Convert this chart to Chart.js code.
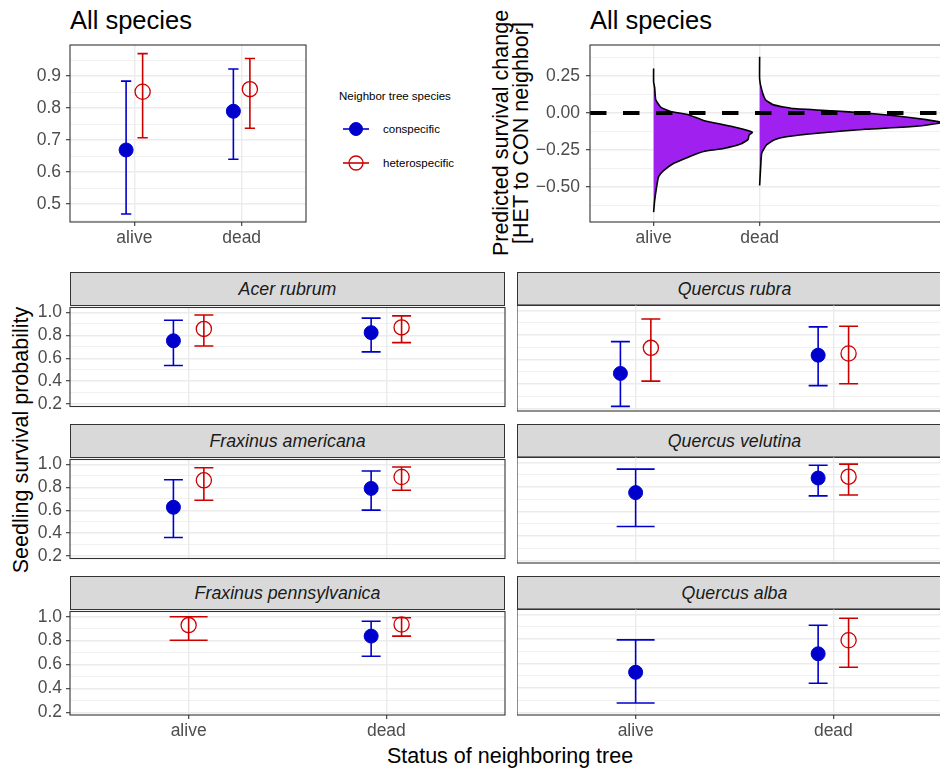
<!DOCTYPE html>
<html>
<head>
<meta charset="utf-8">
<script src="https://cdn.jsdelivr.net/npm/chart.js@4.4.1/dist/chart.umd.min.js"></script>
<style>
  html, body { margin: 0; padding: 0; background: #fff; overflow: hidden; }
  #fig { position: relative; width: 940px; height: 768px; overflow: hidden; font-family: "Liberation Sans", Arial, sans-serif; }
  canvas { position: absolute; }
  .txt { position: absolute; white-space: nowrap; color: #000; }
  .strip { position: absolute; box-sizing: border-box; background: #d9d9d9; border: 1.1px solid #333; font-style: italic; font-size: 17.8px; color: #1a1a1a; text-align: center; }
  .rot { transform: translate(-50%, -50%) rotate(-90deg); text-align: center; }
</style>
</head>
<body>
<div id="fig">
  <div class="txt" style="left:70px; top:8px; font-size:25.5px; line-height:25.5px">All species</div>
  <div class="txt" style="left:590px; top:8px; font-size:25.5px; line-height:25.5px">All species</div>

  <div class="txt" style="left:339px; top:89px; font-size:11.5px; line-height:14px">Neighbor tree species</div>
  <svg style="position:absolute; left:340px; top:115px" width="32" height="62">
    <line x1="3" y1="14" x2="29" y2="14" stroke="#0000cd" stroke-width="1.6"/>
    <circle cx="16" cy="14" r="6.5" fill="#0000cd" stroke="#0000cd" stroke-width="1"/>
    <line x1="3" y1="48" x2="29" y2="48" stroke="#cd0000" stroke-width="1.6"/>
    <circle cx="16" cy="48" r="7" fill="none" stroke="#cd0000" stroke-width="1.3"/>
  </svg>
  <div class="txt" id="leg0" style="left:383px; top:122px; font-size:11.5px; line-height:14px"></div>
  <div class="txt" id="leg1" style="left:383px; top:156px; font-size:11.5px; line-height:14px"></div>

  <div class="txt rot" style="left:511px; top:133px; font-size:21.5px; line-height:20px">Predicted survival change<br>[HET to CON neighbor]</div>
  <div class="txt rot" style="left:21px; top:440px; font-size:21.5px; line-height:22px">Seedling survival probability</div>
  <div class="txt" style="left:510px; top:745px; font-size:21.5px; line-height:22px; transform:translateX(-50%)">Status of neighboring tree</div>
</div>
<script>
// x categories and groups
const statuses = ['alive', 'dead'];
const groupNames = ['conspecific', 'heterospecific'];

// All species: survival probability (mean, lower, upper) per status
const allConMean = [0.669, 0.790];
const allConLow = [0.469, 0.640];
const allConHigh = [0.884, 0.922];
const allHetMean = [0.851, 0.859];
const allHetLow = [0.707, 0.737];
const allHetHigh = [0.970, 0.955];
const allTicks = [0.5, 0.6, 0.7, 0.8, 0.9];

// All species: predicted change, half-violin profiles
const changeTicks = [-0.5, -0.25, 0, 0.25];
const zeroLine = 0;
const aliveChange = [0.30, 0.21, 0.17, 0.09, 0.04, 0.01, -0.01, -0.05, -0.08, -0.10, -0.13, -0.15, -0.18, -0.21, -0.24, -0.26, -0.30, -0.34, -0.39, -0.43, -0.50, -0.59, -0.67];
const aliveDensity = [0, 0, 0.01, 0.02, 0.066, 0.16, 0.32, 0.47, 0.66, 0.79, 0.93, 0.90, 0.89, 0.82, 0.66, 0.47, 0.32, 0.19, 0.094, 0.047, 0.028, 0.01, 0];
const deadChange = [0.38, 0.23, 0.155, 0.09, 0.055, 0.03, 0.015, 0.0, -0.02, -0.045, -0.065, -0.09, -0.11, -0.135, -0.16, -0.18, -0.215, -0.27, -0.36, -0.49];
const deadDensity = [0, 0, 0.02, 0.055, 0.13, 0.32, 0.68, 1.0, 1.3, 1.57, 1.72, 1.48, 1.0, 0.57, 0.25, 0.14, 0.066, 0.02, 0.01, 0];

// Per species panels, [alive, dead]
const species = ['Acer rubrum', 'Quercus rubra', 'Fraxinus americana', 'Quercus velutina', 'Fraxinus pennsylvanica', 'Quercus alba'];
const conMean = [[0.753, 0.824], [0.485, 0.634], [0.626, 0.791], [0.753, 0.872], [null, 0.838], [0.527, 0.678]];
const conLow = [[0.536, 0.656], [0.216, 0.385], [0.362, 0.601], [0.476, 0.726], [null, 0.670], [0.276, 0.438]];
const conHigh = [[0.932, 0.951], [0.745, 0.865], [0.867, 0.943], [0.945, 0.976], [null, 0.962], [0.792, 0.911]];
const hetMean = [[0.857, 0.870], [0.694, 0.648], [0.862, 0.891], [null, 0.883], [0.930, 0.935], [null, 0.789]];
const hetLow = [[0.707, 0.737], [0.422, 0.401], [0.688, 0.775], [null, 0.734], [0.803, 0.838], [null, 0.568]];
const hetHigh = [[0.979, 0.971], [0.930, 0.870], [0.972, 0.978], [null, 0.986], [1.0, 0.992], [null, 0.968]];
const probTicks = [0.2, 0.4, 0.6, 0.8, 1.0];

const BLUE = '#0000cd', RED = '#cd0000', PURPLE = '#a020f0';
const DODGE = 0.077, CAP = 0.048;
const TICK_FONT = 17.5;

Chart.defaults.font.family = '"Liberation Sans", Arial, sans-serif';
Chart.defaults.animation = false;

const fig = document.getElementById('fig');
document.getElementById('leg0').textContent = groupNames[0];
document.getElementById('leg1').textContent = groupNames[1];

function addCanvas(left, top, w, h) {
    const c = document.createElement('canvas');
    c.width = w; c.height = h;
    c.style.left = left + 'px'; c.style.top = top + 'px';
    c.style.width = w + 'px'; c.style.height = h + 'px';
    fig.appendChild(c);
    return c;
}

const near = (a, b) => Math.abs(a - b) < 1e-6;

// y axis with major ticks + minor gridlines halfway between
function axisY(min, max, major, fmt, width, labels, pad) {
    const step = major[1] - major[0];
    const all = major.slice();
    [major[0] - step / 2].concat(major.map(v => v + step / 2)).forEach(v => {
        if (v > min && v < max) all.push(v);
    });
    all.sort((a, b) => a - b);
    const isMajor = v => major.some(m => near(m, v));
    return {
        type: 'linear', min: min, max: max,
        afterBuildTicks: s => { s.ticks = all.map(v => ({ value: v })); },
        afterFit: s => { s.width = width; },
        border: { display: false },
        grid: {
            color: '#ebebeb',
            lineWidth: c => (c.tick && isMajor(c.tick.value)) ? 1.4 : 0.7,
            drawTicks: labels,
            tickLength: 4,
            tickWidth: 1.1,
            tickColor: c => (c.tick && isMajor(c.tick.value)) ? '#333333' : 'rgba(0,0,0,0)'
        },
        ticks: {
            display: labels, autoSkip: false, padding: pad,
            color: '#4d4d4d', font: { size: TICK_FONT },
            callback: v => isMajor(v) ? fmt(v) : ''
        }
    };
}

function axisX(min, max, labels, height) {
    return {
        type: 'linear', min: min, max: max,
        afterBuildTicks: s => { s.ticks = statuses.map((_, i) => ({ value: i + 1 })); },
        afterFit: s => { s.height = height; },
        border: { display: false },
        grid: { color: '#ebebeb', lineWidth: 1.4, drawTicks: labels, tickLength: 4, tickWidth: 1.1, tickColor: '#333333' },
        ticks: {
            display: labels, autoSkip: false, maxRotation: 0, padding: 2,
            color: '#4d4d4d', font: { size: TICK_FONT },
            callback: v => statuses[Math.round(v) - 1]
        }
    };
}

const frame = {
    id: 'frame',
    afterDatasetsDraw(chart) {
        const { ctx, chartArea: a } = chart;
        ctx.save();
        ctx.strokeStyle = '#333333';
        ctx.lineWidth = 1.1;
        ctx.strokeRect(a.left, a.top, a.right - a.left, a.bottom - a.top);
        ctx.restore();
    }
};

const errorBars = {
    id: 'errorBars',
    beforeDatasetsDraw(chart) {
        const { ctx, scales: { x, y } } = chart;
        ctx.save();
        ctx.lineWidth = 1.6;
        chart.data.datasets.forEach(ds => {
            if (!ds.bars) return;
            ctx.strokeStyle = ds.borderColor;
            ds.bars.forEach(b => {
                const px = x.getPixelForValue(b.x);
                const lo = y.getPixelForValue(b.lo), hi = y.getPixelForValue(b.hi);
                const c0 = x.getPixelForValue(b.x - b.cap), c1 = x.getPixelForValue(b.x + b.cap);
                ctx.beginPath();
                ctx.moveTo(px, lo); ctx.lineTo(px, hi);
                ctx.moveTo(c0, lo); ctx.lineTo(c1, lo);
                ctx.moveTo(c0, hi); ctx.lineTo(c1, hi);
                ctx.stroke();
            });
        });
        ctx.restore();
    }
};

function buildSets(cm, cl, ch, hm, hl, hh) {
    const groups = [
        { m: cm, lo: cl, hi: ch, col: BLUE, filled: true, side: -1 },
        { m: hm, lo: hl, hi: hh, col: RED, filled: false, side: 1 }
    ];
    return groups.map(g => {
        const pts = [], bars = [];
        statuses.forEach((s, i) => {
            if (g.m[i] == null) return;
            const paired = cm[i] != null && hm[i] != null;
            const x = i + 1 + (paired ? g.side * DODGE : 0);
            pts.push({ x: x, y: g.m[i] });
            bars.push({ x: x, lo: g.lo[i], hi: g.hi[i], cap: paired ? CAP : CAP * 2 });
        });
        return {
            data: pts, bars: bars,
            borderColor: g.col,
            backgroundColor: g.filled ? g.col : 'rgba(0,0,0,0)',
            pointRadius: g.filled ? 7 : 7.6,
            pointHoverRadius: g.filled ? 7 : 7.6,
            pointBorderWidth: g.filled ? 1 : 1.3
        };
    });
}

const basePlugins = { legend: { display: false }, tooltip: { enabled: false } };

// All species: probabilities
new Chart(addCanvas(0, 0, 330, 262), {
    type: 'scatter',
    data: { datasets: buildSets(allConMean, allConLow, allConHigh, allHetMean, allHetLow, allHetHigh) },
    options: {
        responsive: false, devicePixelRatio: 1,
        layout: { autoPadding: false, padding: { top: 45, right: 24, left: 0, bottom: 0 } },
        plugins: basePlugins,
        scales: {
            x: axisX(0.4, 2.6, true, 40),
            y: axisY(0.444, 0.997, allTicks, v => v.toFixed(1), 70, true, 5)
        }
    },
    plugins: [errorBars, frame]
});

// All species: predicted change (half violins)
const violin = (center, ys, ws) => ys.map((y, i) => ({ x: center + ws[i], y: y }));
new Chart(addCanvas(530, 0, 500, 262), {
    type: 'line',
    data: {
        datasets: [
            { data: [{ x: 0.4, y: zeroLine }, { x: 4.55, y: zeroLine }], borderColor: '#000', borderWidth: 4, borderDash: [16.5, 16.5], pointRadius: 0, fill: false, order: 0 },
            { data: violin(1, aliveChange, aliveDensity), borderColor: '#000', borderWidth: 1.6, pointRadius: 0, fill: false, tension: 0.15, order: 1 },
            { data: violin(2, deadChange, deadDensity), borderColor: '#000', borderWidth: 1.6, pointRadius: 0, fill: false, tension: 0.15, order: 1 },
            { data: violin(1, aliveChange, aliveDensity), borderColor: 'rgba(0,0,0,0)', backgroundColor: PURPLE, pointRadius: 0, fill: 'shape', tension: 0.15, order: 2 },
            { data: violin(2, deadChange, deadDensity), borderColor: 'rgba(0,0,0,0)', backgroundColor: PURPLE, pointRadius: 0, fill: 'shape', tension: 0.15, order: 2 }
        ]
    },
    options: {
        responsive: false, devicePixelRatio: 1,
        layout: { autoPadding: false, padding: { top: 45, right: 0, left: 0, bottom: 0 } },
        plugins: basePlugins,
        scales: {
            x: axisX(0.4, 4.55, true, 40),
            y: axisY(-0.7365, 0.4595, changeTicks, v => (v < 0 ? '\u2212' : '') + Math.abs(v).toFixed(2), 60, true, 6)
        }
    },
    plugins: [frame]
});

// Species panels
const rowTop = [305, 457, 609];
const plotH = 106, stripH = 33;
species.forEach((name, k) => {
    const row = Math.floor(k / 2), col = k % 2;
    const last = row === rowTop.length - 1;
    const panelLeft = col === 0 ? 70 : 517;
    const canvasLeft = col === 0 ? 0 : 517;
    const w = col === 0 ? 510 : 440;
    const top = rowTop[row] - 12;
    const h = 12 + plotH + (last ? 40 : 10);

    const strip = document.createElement('div');
    strip.className = 'strip';
    strip.style.left = panelLeft + 'px';
    strip.style.top = (rowTop[row] - stripH) + 'px';
    strip.style.width = '435px';
    strip.style.height = (stripH + 1) + 'px';
    strip.style.lineHeight = (stripH - 1) + 'px';
    strip.textContent = name;
    fig.appendChild(strip);

    new Chart(addCanvas(canvasLeft, top, w, h), {
        type: 'scatter',
        data: { datasets: buildSets(conMean[k], conLow[k], conHigh[k], hetMean[k], hetLow[k], hetHigh[k]) },
        options: {
            responsive: false, devicePixelRatio: 1,
            layout: { autoPadding: false, padding: { top: 12, right: 5, left: 0, bottom: last ? 0 : 10 } },
            plugins: basePlugins,
            scales: {
                x: axisX(0.4, 2.6, last, last ? 40 : 0),
                y: axisY(0.178, 1.044, probTicks, v => v.toFixed(1), col === 0 ? 70 : 0, col === 0, 4)
            }
        },
        plugins: [errorBars, frame]
    });
});
</script>
</body>
</html>
